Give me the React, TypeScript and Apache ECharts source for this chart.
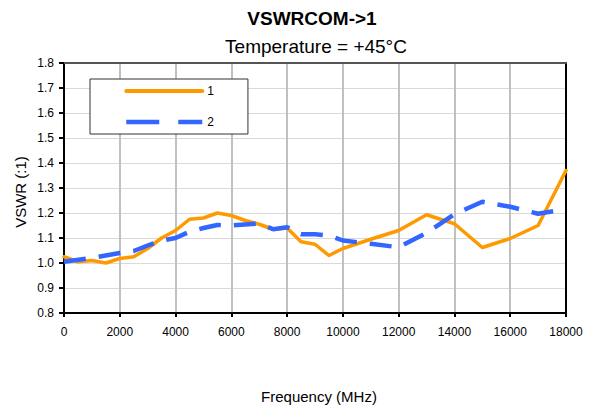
import React, { useEffect, useRef } from "react";
import * as echarts from "echarts";

const freq1 = [0, 500, 1000, 1500, 2000, 2500, 3000, 3500, 4000, 4500, 5000, 5500, 6000, 6500, 7000, 7500, 8000, 8500, 9000, 9500, 10000, 11000, 12000, 13000, 14000, 15000, 16000, 17000, 18000];
const vswr1 = [1.025, 1.005, 1.01, 1.0, 1.018, 1.025, 1.058, 1.1, 1.13, 1.175, 1.18, 1.2, 1.19, 1.17, 1.155, 1.135, 1.14, 1.085, 1.075, 1.03, 1.058, 1.095, 1.13, 1.193, 1.157, 1.062, 1.098, 1.15, 1.37];
const freq2 = [0, 1000, 2000, 2500, 3000, 3500, 4000, 4500, 5000, 5500, 6000, 7000, 7500, 8000, 8500, 9000, 9500, 10000, 11000, 12000, 13000, 14000, 15000, 16000, 17000, 18000];
const vswr2 = [1.005, 1.02, 1.04, 1.048, 1.07, 1.09, 1.1, 1.125, 1.14, 1.152, 1.15, 1.158, 1.135, 1.143, 1.115, 1.115, 1.11, 1.09, 1.077, 1.063, 1.12, 1.195, 1.245, 1.225, 1.197, 1.215];
const seriesNames = ["1", "2"];
const xTicks = { min: 0, max: 18000, interval: 2000 };
const yTicks = { min: 0.8, max: 1.8, interval: 0.1 };
const titleText = "VSWRCOM->1";
const subtitleText = "Temperature = +45°C";
const xName = "Frequency (MHz)";
const yName = "VSWR (:1)";

const FONT = "'Liberation Sans', Arial, Helvetica, sans-serif";

export default function App() {
  const ref = useRef<HTMLDivElement>(null);
  useEffect(() => {
    if (!ref.current) return;
    const chart = echarts.init(ref.current, undefined, { renderer: "svg" });
    const option: any = {
      animation: false,
      backgroundColor: "#ffffff",
      textStyle: { fontFamily: FONT },
      grid: { left: 64, right: 26, top: 63, bottom: 93, containLabel: false },
      legend: {
        orient: "vertical",
        left: 90,
        top: 79,
        padding: [6, 34, 6, 34],
        itemWidth: 76,
        itemHeight: 14,
        itemGap: 19,
        borderColor: "#333333",
        borderWidth: 1,
        backgroundColor: "#ffffff",
        itemStyle: { opacity: 0 },
        textStyle: { fontSize: 12, color: "#000", fontFamily: FONT },
        data: [
          { name: seriesNames[0], lineStyle: { width: 4, cap: "round" } },
          { name: seriesNames[1], lineStyle: { width: 4.5, type: [33, 19] } },
        ],
      },
      graphic: [
        { type: "text", x: 312, y: 18, style: { text: titleText, textAlign: "center", textVerticalAlign: "middle", font: `bold 19px ${FONT}`, fill: "#000" } },
        { type: "text", x: 316, y: 46, style: { text: subtitleText, textAlign: "center", textVerticalAlign: "middle", font: `19px ${FONT}`, fill: "#000" } },
        { type: "text", x: 319, y: 396, style: { text: xName, textAlign: "center", textVerticalAlign: "middle", font: `15px ${FONT}`, fill: "#000" } },
        { type: "text", x: 20, y: 192, rotation: Math.PI / 2, style: { text: yName, textAlign: "center", textVerticalAlign: "middle", font: `15px ${FONT}`, fill: "#000" } },
      ],
      xAxis: [
        {
          type: "value",
          min: xTicks.min,
          max: xTicks.max,
          interval: xTicks.interval,
          axisLine: { show: true, onZero: false, lineStyle: { color: "#000", width: 2 } },
          axisTick: { show: true, length: 4, lineStyle: { color: "#000", width: 2 } },
          axisLabel: { fontSize: 12, color: "#000", margin: 13, fontFamily: FONT, formatter: (v: number) => String(v) },
          splitLine: { show: true, lineStyle: { color: "#C0C0C0", width: 2 } },
        },
        {
          type: "value",
          position: "top",
          min: xTicks.min,
          max: xTicks.max,
          interval: xTicks.interval,
          axisLine: { show: true, onZero: false, lineStyle: { color: "#555", width: 2 } },
          axisTick: { show: false },
          axisLabel: { show: false },
          splitLine: { show: false },
        },
      ],
      yAxis: [
        {
          type: "value",
          min: yTicks.min,
          max: yTicks.max,
          interval: yTicks.interval,
          axisLine: { show: true, onZero: false, lineStyle: { color: "#000", width: 2 } },
          axisTick: { show: true, length: 5, lineStyle: { color: "#000", width: 2 } },
          axisLabel: { fontSize: 12, color: "#000", margin: 10, fontFamily: FONT, formatter: (v: number) => v.toFixed(1) },
          splitLine: { show: true, lineStyle: { color: "#D9D9D9", width: 1 } },
        },
        {
          type: "value",
          position: "right",
          min: yTicks.min,
          max: yTicks.max,
          interval: yTicks.interval,
          axisLine: { show: true, onZero: false, lineStyle: { color: "#000", width: 2 } },
          axisTick: { show: false },
          axisLabel: { show: false },
          splitLine: { show: false },
        },
      ],
      series: [
        {
          name: seriesNames[0],
          type: "line",
          symbol: "none",
          data: freq1.map((f, i) => [f, vswr1[i]]),
          lineStyle: { color: "#FF9900", width: 3.5, cap: "round", join: "round" },
          itemStyle: { color: "#FF9900" },
          z: 3,
        },
        {
          name: seriesNames[1],
          type: "line",
          symbol: "none",
          data: freq2.map((f, i) => [f, vswr2[i]]),
          lineStyle: { color: "#3366FF", width: 4.5, type: [22, 13] },
          itemStyle: { color: "#3366FF" },
          z: 4,
        },
      ],
    };
    chart.setOption(option);
    return () => chart.dispose();
  }, []);
  return <div ref={ref} style={{ position: "absolute", left: 0, top: 0, width: 592, height: 406 }} />;
}
